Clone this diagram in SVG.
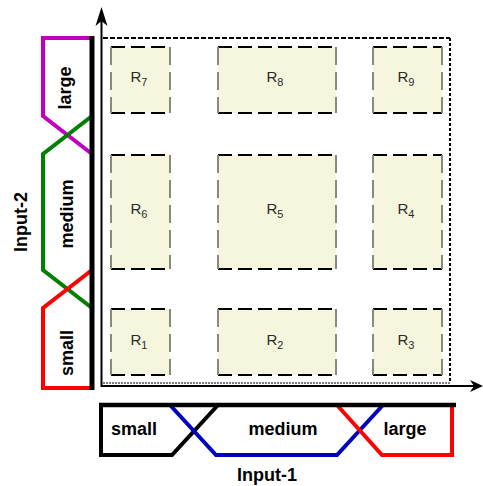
<svg xmlns="http://www.w3.org/2000/svg" width="483" height="486" viewBox="0 0 483 486">
<style>
.reg{fill:#f6f6de}
.hb{stroke:#000;stroke-width:2;stroke-dasharray:14 6;fill:none}
.vb{stroke:#8a8a7a;stroke-width:2;stroke-dasharray:18 7;fill:none}
.rl{font-family:"Liberation Sans",Arial,sans-serif;font-size:15px;fill:#2a2a2a;text-anchor:middle}
.rl tspan{font-size:11px}
.mf{fill:none;stroke-width:4;stroke-linejoin:miter}
.lbl{font-family:"Liberation Sans",Arial,sans-serif;font-size:18px;font-weight:bold;fill:#000;text-anchor:middle}
.ax{stroke:#000;stroke-width:2;fill:none}
</style>
<g id="axes">
<line class="ax" x1="101.5" y1="387" x2="101.5" y2="14"/>
<polygon points="101.5,7 95.5,26 101.5,21 107.5,26" fill="#000"/>
<line class="ax" x1="101" y1="386" x2="476" y2="386"/>
<polygon points="483,386 470,380 474,386 470,392" fill="#000"/>
<line x1="103" y1="38" x2="450" y2="38" stroke="#000" stroke-width="2" stroke-dasharray="5 2"/>
<line x1="450" y1="38" x2="450" y2="383" stroke="#000" stroke-width="2" stroke-dasharray="3 2"/>
<line x1="103" y1="383" x2="450" y2="383" stroke="#000" stroke-width="1" stroke-dasharray="2 1"/>
</g>
<g id="R7"><rect class="reg" x="111" y="47" width="59" height="66"/><path class="hb" d="M111,47H170M111,113H170"/><path class="vb" d="M111,47V113M170,47V113"/><text class="rl" x="139" y="82">R<tspan dy="4">7</tspan></text></g>
<g id="R8"><rect class="reg" x="218" y="47" width="118" height="66"/><path class="hb" d="M218,47H336M218,113H336"/><path class="vb" d="M218,47V113M336,47V113"/><text class="rl" x="275" y="82">R<tspan dy="4">8</tspan></text></g>
<g id="R9"><rect class="reg" x="373" y="47" width="69" height="66"/><path class="hb" d="M373,47H442M373,113H442"/><path class="vb" d="M373,47V113M442,47V113"/><text class="rl" x="406" y="82">R<tspan dy="4">9</tspan></text></g>
<g id="R6"><rect class="reg" x="111" y="155" width="59" height="114"/><path class="hb" d="M111,155H170M111,269H170"/><path class="vb" d="M111,155V269M170,155V269"/><text class="rl" x="139" y="214">R<tspan dy="4">6</tspan></text></g>
<g id="R5"><rect class="reg" x="218" y="155" width="118" height="114"/><path class="hb" d="M218,155H336M218,269H336"/><path class="vb" d="M218,155V269M336,155V269"/><text class="rl" x="275" y="214">R<tspan dy="4">5</tspan></text></g>
<g id="R4"><rect class="reg" x="373" y="155" width="69" height="114"/><path class="hb" d="M373,155H442M373,269H442"/><path class="vb" d="M373,155V269M442,155V269"/><text class="rl" x="406" y="214">R<tspan dy="4">4</tspan></text></g>
<g id="R1"><rect class="reg" x="111" y="309" width="59" height="66"/><path class="hb" d="M111,309H170M111,375H170"/><path class="vb" d="M111,309V375M170,309V375"/><text class="rl" x="139" y="345">R<tspan dy="4">1</tspan></text></g>
<g id="R2"><rect class="reg" x="218" y="309" width="118" height="66"/><path class="hb" d="M218,309H336M218,375H336"/><path class="vb" d="M218,309V375M336,309V375"/><text class="rl" x="275" y="345">R<tspan dy="4">2</tspan></text></g>
<g id="R3"><rect class="reg" x="373" y="309" width="69" height="66"/><path class="hb" d="M373,309H442M373,375H442"/><path class="vb" d="M373,309V375M442,309V375"/><text class="rl" x="406" y="345">R<tspan dy="4">3</tspan></text></g>
<g id="input2">
<path class="mf" stroke="#c000c0" d="M92,38H43V116L92,154"/>
<path class="mf" stroke="#008000" d="M92,116L43,154V270L92,308"/>
<path class="mf" stroke="#ff0000" d="M92,270L43,308V388H92"/>
<line x1="92" y1="36" x2="92" y2="390" stroke="#000" stroke-width="5"/>
<text class="lbl" transform="translate(71,88) rotate(-90)">large</text>
<text class="lbl" transform="translate(73,214) rotate(-90)">medium</text>
<text class="lbl" transform="translate(73,353) rotate(-90)">small</text>
<text class="lbl" transform="translate(27,222) rotate(-90)">Input-2</text>
</g>
<g id="input1">
<path class="mf" stroke="#000" d="M101,405V455H172L218,405"/>
<path class="mf" stroke="#0000c0" d="M170,405L216,455H337L383,405"/>
<path class="mf" stroke="#ff0000" d="M337,405L382,455H452V407"/>
<line x1="99" y1="405" x2="456" y2="405" stroke="#000" stroke-width="4.5"/>
<text class="lbl" x="134" y="435">small</text>
<text class="lbl" x="283" y="435">medium</text>
<text class="lbl" x="405" y="435">large</text>
<text class="lbl" x="267" y="481">Input-1</text>
</g>
</svg>
